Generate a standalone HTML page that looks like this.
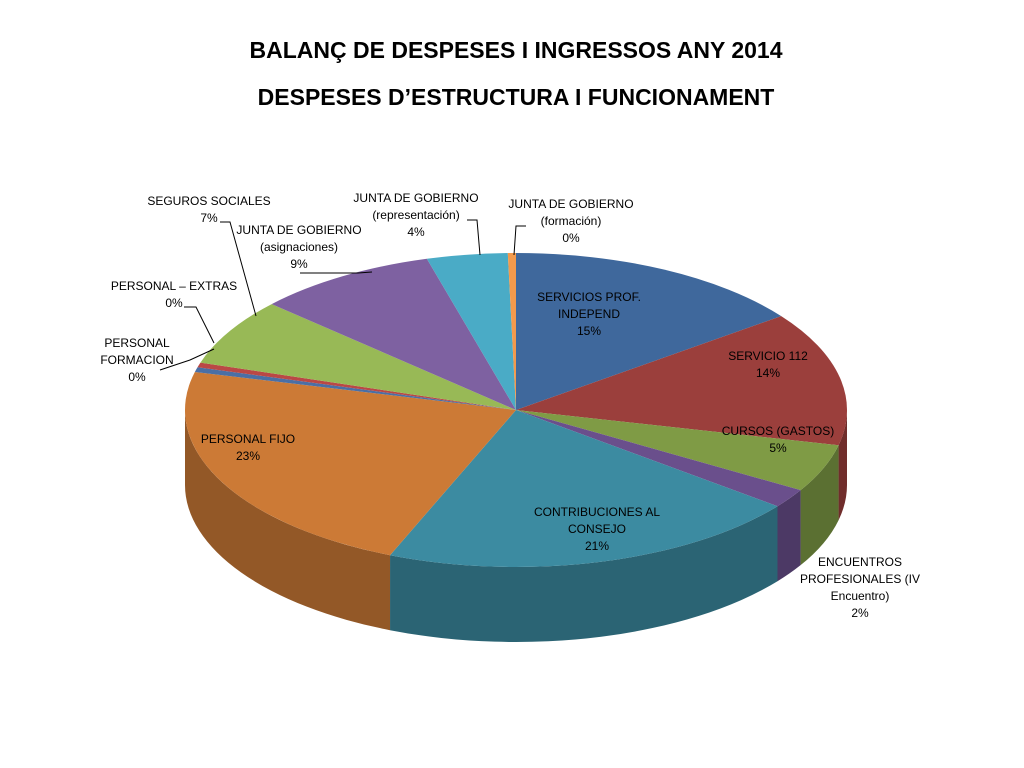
<!DOCTYPE html>
<html><head><meta charset="utf-8"><style>
body{margin:0;background:#fff;}
svg{display:block;font-family:"Liberation Sans",sans-serif;}
.lbl{font-size:12px;fill:#000;text-anchor:middle;font-family:"Liberation Sans","DejaVu Sans",sans-serif;}
</style></head><body>
<svg id="chart" width="1024" height="768">
<text x="516" y="58" text-anchor="middle" font-size="23" font-weight="bold">BALANÇ DE DESPESES I INGRESSOS ANY 2014</text>
<text x="516" y="105" text-anchor="middle" font-size="23" font-weight="bold">DESPESES D’ESTRUCTURA I FUNCIONAMENT</text>
<g id="sides"></g><g id="tops"></g><g id="labels"></g>
</svg>
<script>
const categories=["SERVICIOS PROF. INDEPEND","SERVICIO 112","CURSOS (GASTOS)","ENCUENTROS PROFESIONALES (IV Encuentro)","CONTRIBUCIONES AL CONSEJO","PERSONAL FIJO","PERSONAL FORMACION","PERSONAL – EXTRAS","SEGUROS SOCIALES","JUNTA DE GOBIERNO (asignaciones)","JUNTA DE GOBIERNO (representación)","JUNTA DE GOBIERNO (formación)"];
const values=[15,14,5,2,21,23,0.5,0.5,7,9,4,0.4];
const pctLabels=["15%","14%","5%","2%","21%","23%","0%","0%","7%","9%","4%","0%"];
const colors=["#3f689c","#9b3f3c","#7f9b45","#6a4f8c","#3c8ba1","#cc7a36","#4a6fa5","#ba4845","#98b956","#7e61a1","#4aabc6","#f39a4c"];
const cx=516,cy=410,rx=331,ry=157,depth=75;
const NS="http://www.w3.org/2000/svg";
function pt(deg,dy){const r=deg*Math.PI/180;return [cx+rx*Math.sin(r),cy-ry*Math.cos(r)+(dy||0)];}
function dark(h,f){const n=parseInt(h.slice(1),16);const c=[n>>16,(n>>8)&255,n&255].map(v=>Math.round(v*f));return `rgb(${c})`;}
const total=values.reduce((a,b)=>a+b,0);
const sides=document.getElementById('sides'),tops=document.getElementById('tops'),labels=document.getElementById('labels');
let acc=0;
values.forEach((v,i)=>{
  const a=acc/total*360,b=(acc+v)/total*360;acc+=v;
  const sa=Math.max(a,90),sb=Math.min(b,270);
  if(sb>sa){
    const p1=pt(sa),p2=pt(sb),p3=pt(sb,depth),p4=pt(sa,depth);
    const s=document.createElementNS(NS,'path');
    s.setAttribute('d',`M${p1} A${rx} ${ry} 0 0 1 ${p2} L${p3} A${rx} ${ry} 0 0 0 ${p4} Z`);
    s.setAttribute('fill',dark(colors[i],0.72));
    
    
    sides.appendChild(s);
  }
  const q1=pt(a),q2=pt(b);
  const t=document.createElementNS(NS,'path');
  t.setAttribute('d',`M${cx},${cy} L${q1} A${rx} ${ry} 0 ${b-a>180?1:0} 1 ${q2} Z`);
  t.setAttribute('fill',colors[i]);
  
  
  tops.appendChild(t);
});
// label layout: [lines, x, y, leader]
const layout=[
 [["SERVICIOS PROF.","INDEPEND"],589,301,null],
 [["SERVICIO 112"],768,360,null],
 [["CURSOS (GASTOS)"],778,435,null],
 [["ENCUENTROS","PROFESIONALES (IV","Encuentro)"],860,566,null],
 [["CONTRIBUCIONES AL","CONSEJO"],597,516,null],
 [["PERSONAL FIJO"],248,443,null],
 [["PERSONAL","FORMACION"],137,347,"M160,370 L190,360 L214,349"],
 [["PERSONAL – EXTRAS"],174,290,"M184,307 L196,307 L214,343"],
 [["SEGUROS SOCIALES"],209,205,"M220,222 L230,222 L256,316"],
 [["JUNTA DE GOBIERNO","(asignaciones)"],299,234,"M300,273 L358,273 L372,272"],
 [["JUNTA DE GOBIERNO","(representación)"],416,202,"M467,220 L477,220 L480,255"],
 [["JUNTA DE GOBIERNO","(formación)"],571,208,"M526,226 L516,226 L514,255"]
];
layout.forEach((L,i)=>{
  const lines=L[0].concat([pctLabels[i]]);
  const tx=document.createElementNS(NS,'text');
  tx.setAttribute('class','lbl');
  
  
  lines.forEach((s,k)=>{const ts=document.createElementNS(NS,'tspan');ts.setAttribute('x',L[1]);ts.setAttribute('y',L[2]+k*17);ts.textContent=s;tx.appendChild(ts);});
  labels.appendChild(tx);
  if(L[3]){const ln=document.createElementNS(NS,'path');ln.setAttribute('d',L[3]);ln.setAttribute('fill','none');ln.setAttribute('stroke','#000');ln.setAttribute('stroke-width','1');
  
  
  labels.appendChild(ln);}
});
</script>
</body></html>
